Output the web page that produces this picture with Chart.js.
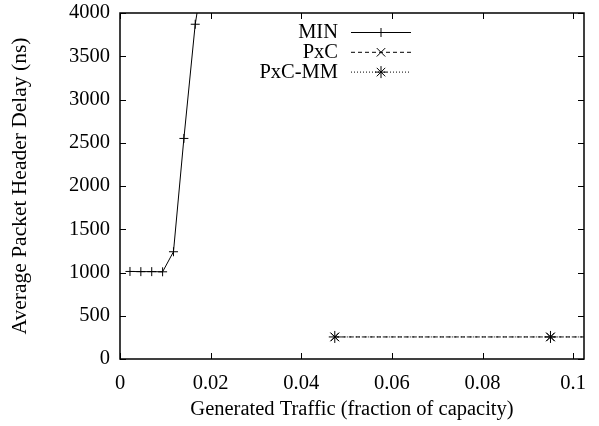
<!DOCTYPE html>
<html>
<head>
<meta charset="utf-8">
<script src="https://cdn.jsdelivr.net/npm/chart.js@4"></script>
<style>
  html, body { margin: 0; padding: 0; background: #fff; }
  #wrap { width: 599px; height: 426px; }
</style>
</head>
<body>
<div id="wrap"><canvas id="delayChart" width="599" height="426"></canvas></div>
<script>
// Generated traffic (fraction of capacity) vs average header delay (ns)
const minX = [0.0022, 0.0046, 0.0070, 0.0094, 0.0118, 0.0141, 0.0166, 0.0189];
const minY = [1012, 1010, 1010, 1008, 1240, 2550, 3870, 4620];
const pxcX = [0.0474, 0.0950, 0.1426];
const pxcY = [255, 255, 255];
const pxcMmX = [0.0474, 0.0950, 0.1426];
const pxcMmY = [255, 255, 255];
const xTicks = [0, 0.02, 0.04, 0.06, 0.08, 0.1];
const yTicks = [0, 500, 1000, 1500, 2000, 2500, 3000, 3500, 4000];

const FONT = "Liberation Serif";

const toPoints = (xs, ys) => xs.map((x, i) => ({ x: x, y: ys[i] }));

// gnuplot style: inward ticks on all four sides, mirrored
const innerTicks = {
  id: "innerTicks",
  afterDatasetsDraw(chart) {
    const { ctx, chartArea: a, scales } = chart;
    ctx.save();
    ctx.strokeStyle = "#000";
    ctx.lineWidth = 1;
    ctx.beginPath();
    xTicks.forEach(v => {
      const px = Math.round(scales.x.getPixelForValue(v)) + 0.5;
      ctx.moveTo(px, a.bottom); ctx.lineTo(px, a.bottom - 6);
      ctx.moveTo(px, a.top); ctx.lineTo(px, a.top + 6);
    });
    yTicks.forEach(v => {
      const py = Math.round(scales.y.getPixelForValue(v)) + 0.5;
      ctx.moveTo(a.left, py); ctx.lineTo(a.left + 6, py);
      ctx.moveTo(a.right, py); ctx.lineTo(a.right - 6, py);
    });
    ctx.stroke();
    ctx.lineWidth = 1.5;
    ctx.strokeRect(a.left, a.top, a.right - a.left, a.bottom - a.top);
    ctx.restore();
  }
};

// key in the upper middle: right-aligned label, then a line sample with the marker
const sampleKey = {
  id: "sampleKey",
  afterDraw(chart) {
    const { ctx } = chart;
    const textRight = 338, lineL = 351, lineR = 411, top = 32, step = 19.8;
    ctx.save();
    ctx.font = "20.5px '" + FONT + "'";
    ctx.textAlign = "right";
    ctx.textBaseline = "middle";
    chart.data.datasets.forEach((ds, i) => {
      const y = top + i * step;
      ctx.fillStyle = "#000";
      ctx.fillText(ds.label, textRight, y + 1);
      ctx.strokeStyle = "#000";
      ctx.lineWidth = 1;
      ctx.setLineDash(ds.borderDash || []);
      ctx.beginPath();
      ctx.moveTo(lineL, y + 0.5);
      ctx.lineTo(lineR, y + 0.5);
      ctx.stroke();
      ctx.setLineDash([]);
      Chart.helpers.drawPoint(ctx, {
        pointStyle: ds.pointStyle,
        radius: ds.pointRadius,
        borderWidth: 1
      }, (lineL + lineR) / 2, y + 0.5);
    });
    ctx.restore();
  }
};

new Chart(document.getElementById("delayChart").getContext("2d"), {
  type: "line",
  data: {
    datasets: [
      {
        label: "MIN",
        data: toPoints(minX, minY),
        borderColor: "#000",
        borderWidth: 1,
        pointStyle: "cross",
        pointRadius: 4.5,
        pointBorderColor: "#000",
        pointBorderWidth: 1
      },
      {
        label: "PxC",
        data: toPoints(pxcX, pxcY),
        borderColor: "#000",
        borderWidth: 1,
        borderDash: [4, 3],
        pointStyle: "crossRot",
        pointRadius: 6,
        pointBorderColor: "#000",
        pointBorderWidth: 1
      },
      {
        label: "PxC-MM",
        data: toPoints(pxcMmX, pxcMmY),
        borderColor: "#000",
        borderWidth: 1,
        borderDash: [1, 2],
        pointStyle: "star",
        pointRadius: 6,
        pointBorderColor: "#000",
        pointBorderWidth: 1
      }
    ]
  },
  options: {
    responsive: false,
    animation: false,
    layout: { padding: { top: 13, right: 15, left: 0, bottom: 0 } },
    plugins: {
      legend: { display: false },
      tooltip: { enabled: false }
    },
    scales: {
      x: {
        type: "linear",
        min: 0,
        max: 0.1024,
        afterBuildTicks: s => { s.ticks = xTicks.map(v => ({ value: v })); },
        afterFit: s => { s.height = 67; s.paddingLeft = 0; s.paddingRight = 0; },
        grid: { display: false, drawTicks: false },
        border: { display: false },
        ticks: {
          padding: 12,
          color: "#000",
          font: { family: FONT, size: 20.5 },
          maxRotation: 0,
          callback: v => String(+v.toFixed(2))
        },
        title: {
          display: true,
          text: "Generated Traffic (fraction of capacity)",
          color: "#000",
          font: { family: FONT, size: 20.5 },
          padding: { top: 0, bottom: 4 }
        }
      },
      y: {
        min: 0,
        max: 4000,
        afterBuildTicks: s => { s.ticks = yTicks.map(v => ({ value: v })); },
        afterFit: s => { s.width = 120; s.paddingTop = 0; s.paddingBottom = 0; },
        grid: { display: false, drawTicks: false },
        border: { display: false },
        ticks: {
          padding: 10,
          color: "#000",
          font: { family: FONT, size: 20.5 },
          callback: v => String(v)
        },
        title: {
          display: true,
          text: "Average Packet Header Delay (ns)",
          color: "#000",
          font: { family: FONT, size: 21.5 },
          padding: { top: 7, bottom: 0 }
        }
      }
    }
  },
  plugins: [innerTicks, sampleKey]
});
</script>
</body>
</html>
